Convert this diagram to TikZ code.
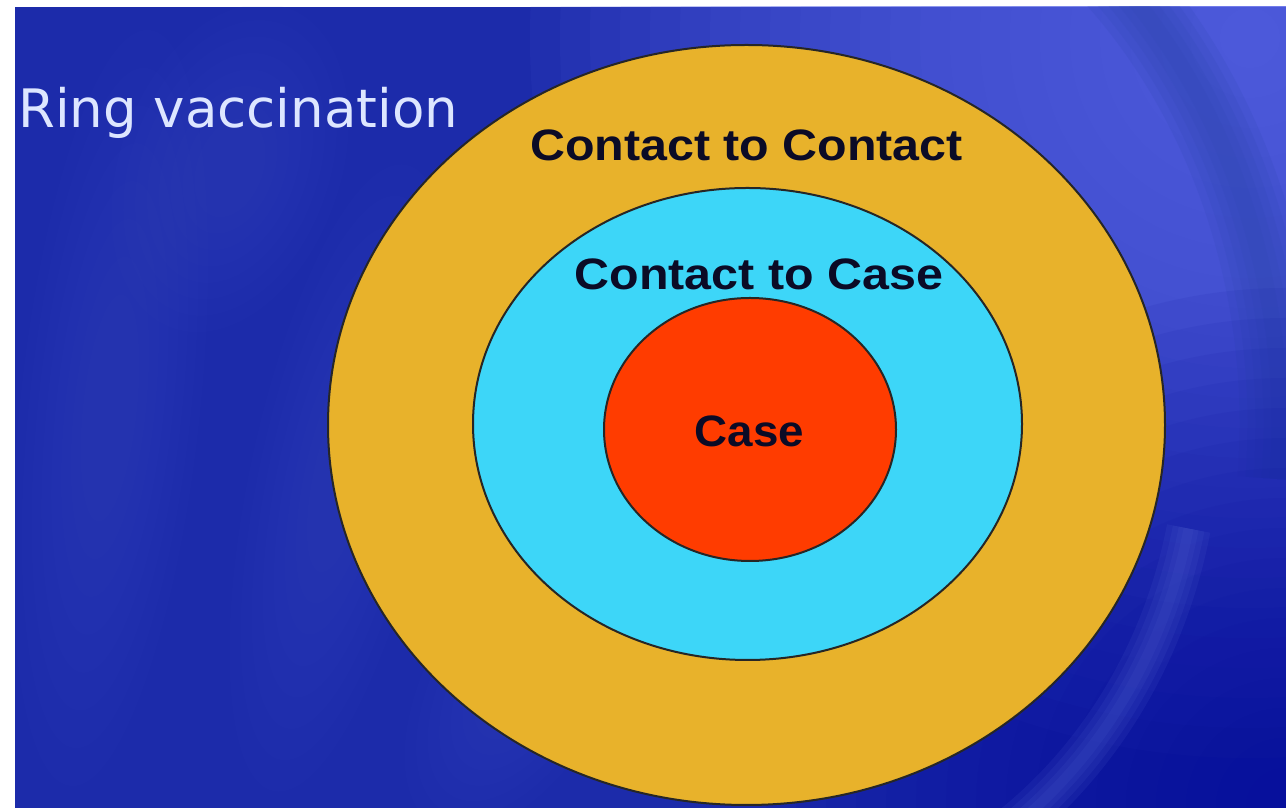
\documentclass[tikz,border=0pt]{standalone}
\usepackage{fontspec}
\setmainfont{Liberation Sans}
\newfontfamily\ringfont{DejaVu Sans}
\definecolor{bgbase}{HTML}{1C2BAA}
\definecolor{bglight}{HTML}{5C68EA}
\definecolor{bgdark}{HTML}{070E9C}
\definecolor{bgband}{HTML}{2E46B0}
\definecolor{bgstreak}{HTML}{4A5ACB}
\definecolor{ringyellow}{HTML}{E8B22B}
\definecolor{ringcyan}{HTML}{3DD6F8}
\definecolor{ringred}{HTML}{FF3C00}
\definecolor{labelink}{HTML}{0B0B26}
\definecolor{titleink}{HTML}{DDE6FF}
\begin{document}
\begin{tikzpicture}[x=1pt,y=1pt,
  ring/.style={draw=black!85, line width=2pt},
  lbl/.style={font=\bfseries\fontsize{44}{48}\selectfont, text=labelink, inner sep=0pt, anchor=base},
  ttl/.style={font=\ringfont\fontsize{53}{60}\selectfont, inner sep=0pt, anchor=base west}]
\useasboundingbox (0,0) rectangle (1286,808);
\fill[white] (0,0) rectangle (1286,808);
\begin{scope}
  \clip (15,0) rectangle (1286,801);
  \fill[bgbase] (15,0) rectangle (1286,801);
  % soft faint streaks on the left
  \foreach \cx/\cy/\rx/\ry/\a in {110/400/90/380/-6, 340/330/90/320/-12, 230/640/110/170/-20, 520/130/90/170/-30}{
    \foreach \k in {1,0.9,0.8,0.7,0.6,0.5,0.4,0.3}{
      \fill[bgstreak, opacity=0.035] (\cx,\cy) ellipse [x radius=\k*\rx, y radius=\k*\ry, rotate=\a];
    }
  }
  % light glow top right
  \foreach \r in {720,690,...,30}{
    \fill[bglight, opacity=0.075] (1250,770) circle (\r);
  }
  % dark band (upper right)
  \foreach \w in {80,64,48,32,16}{
    \draw[bgband, opacity=0.16, line width=\w] (746.5,383) ++(-5:533 and 620) arc[start angle=-5, end angle=80, x radius=533, y radius=620];
  }
  % dark bottom right
  \foreach \r in {520,490,...,20}{
    \fill[bgdark, opacity=0.08] (1286,0) circle (\r);
  }
  % light streak lower right
  \foreach \w in {44,32,20,10}{
    \draw[bgstreak, opacity=0.15, line width=\w] (746.5,383) ++(-12:452 and 498) arc[start angle=-12, end angle=-62, x radius=452, y radius=498];
  }
\end{scope}
% rings
\draw[ring, fill=ringyellow] (746.5,383) ellipse [x radius=418.5, y radius=380];
\draw[ring, fill=ringcyan] (747.5,384) ellipse [x radius=274.5, y radius=236];
\draw[ring, fill=ringred] (750,378.5) ellipse [x radius=146, y radius=131.5];
% labels
\node[lbl] (outerlabel) at (746.5,647) {\scalebox{1.1}[1]{Contact to Contact}};
\node[lbl] (middlelabel) at (759,518) {\scalebox{1.1}[1]{Contact to Case}};
\node[lbl] (innerlabel) at (749.5,361) {\scalebox{1.04}[1]{Case}};
% title
\node[ttl, text=titleink] (title) at (18,680) {Ring vaccination};
\end{tikzpicture}
\end{document}
